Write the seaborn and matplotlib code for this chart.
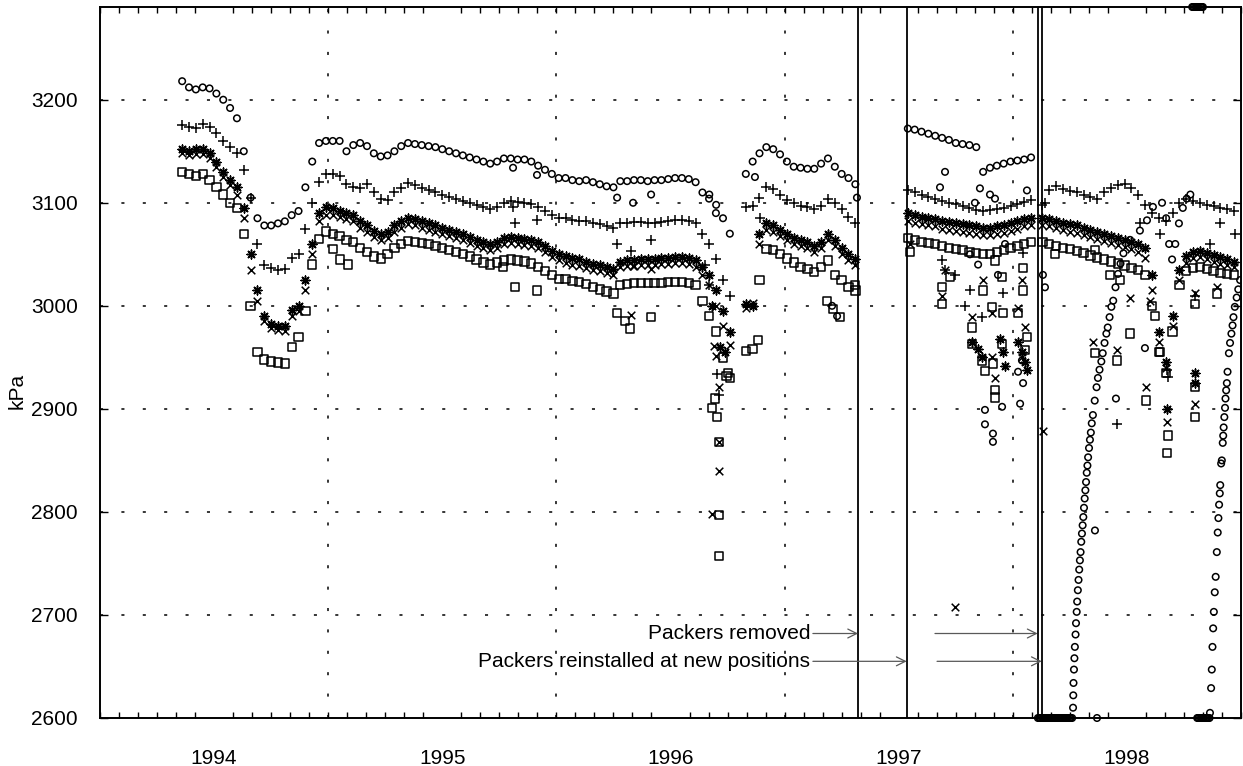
import numpy as np
import pandas as pd
import matplotlib
matplotlib.use("Agg")
import matplotlib.pyplot as plt
import seaborn as sns

sns.set_theme(style="ticks")
plt.rcParams['font.family'] = ['Liberation Sans', 'DejaVu Sans']
for k in ['text.color', 'axes.labelcolor', 'xtick.color', 'ytick.color', 'axes.edgecolor']:
    plt.rcParams[k] = 'black'

# ---------------- data (decimal years, kPa) ----------------
years = [1994, 1995, 1996, 1997, 1998]
y_ticks = [2600, 2700, 2800, 2900, 3000, 3100, 3200]

# sampling dates of the four recording periods
tA = np.round(1994.36 + 0.03 * np.arange(81), 3)
tB = np.round(1996.83 + 0.03 * np.arange(17), 3)
tC = np.round(1997.54 + 0.03 * np.arange(19), 3)
tD = np.round(1998.13 + 0.03 * np.arange(29), 3)

circ_A = [3218, 3212, 3210, 3212, 3211, 3206, 3200, 3192, 3182, 3150,
          3105, 3085, 3078, 3078, 3080, 3082, 3088, 3092, 3115, 3140,
          3158, 3160, 3160, 3160, 3150, 3156, 3158, 3155, 3148, 3145,
          3146, 3150, 3155, 3158, 3157, 3156, 3155, 3154, 3152, 3150,
          3148, 3146, 3144, 3142, 3140, 3138, 3140, 3143, 3143, 3142,
          3142, 3140, 3136, 3132, 3128, 3124, 3124, 3122, 3121, 3122,
          3120, 3118, 3116, 3115, 3121, 3121, 3122, 3122, 3121, 3122,
          3122, 3123, 3124, 3124, 3123, 3120, 3110, 3108, 3098, 3085,
          3070]
plus_A = [3175, 3174, 3173, 3176, 3174, 3168, 3160, 3154, 3148, 3132,
          3105, 3060, 3040, 3037, 3035, 3036, 3046, 3050, 3075, 3100,
          3120, 3128, 3128, 3126, 3118, 3115, 3114, 3118, 3110, 3104,
          3103, 3110, 3114, 3119, 3117, 3114, 3112, 3110, 3108, 3106,
          3104, 3102, 3100, 3098, 3096, 3094, 3096, 3100, 3102, 3101,
          3100, 3099, 3096, 3092, 3088, 3085, 3085, 3083, 3082, 3082,
          3080, 3079, 3077, 3076, 3080, 3080, 3081, 3081, 3080, 3080,
          3081, 3082, 3083, 3083, 3082, 3080, 3070, 3060, 3045, 3025,
          3010]
ast_A = [3152, 3150, 3152, 3152, 3148, 3140, 3130, 3122, 3115, 3095,
         3050, 3015, 2990, 2982, 2980, 2980, 2996, 3000, 3025, 3060,
         3090, 3096, 3095, 3092, 3090, 3088, 3082, 3078, 3073, 3070,
         3072, 3078, 3082, 3085, 3084, 3082, 3080, 3078, 3076, 3074,
         3072, 3070, 3067, 3064, 3062, 3060, 3062, 3066, 3067, 3066,
         3065, 3064, 3062, 3058, 3053, 3050, 3048, 3046, 3045, 3043,
         3041, 3040, 3038, 3036, 3043, 3044, 3044, 3045, 3045, 3045,
         3046, 3046, 3047, 3047, 3046, 3044, 3038, 3030, 3015, 2995,
         2975]
x_A = [3148, 3146, 3147, 3147, 3143, 3135, 3125, 3117, 3108, 3085,
       3035, 3005, 2985, 2978, 2977, 2976, 2990, 2995, 3015, 3050,
       3082, 3088, 3088, 3086, 3084, 3082, 3076, 3072, 3067, 3064,
       3066, 3072, 3076, 3079, 3078, 3076, 3074, 3072, 3070, 3068,
       3066, 3064, 3061, 3058, 3056, 3054, 3056, 3060, 3061, 3060,
       3059, 3058, 3056, 3052, 3047, 3044, 3042, 3040, 3039, 3037,
       3035, 3034, 3032, 3030, 3038, 3039, 3039, 3040, 3040, 3040,
       3041, 3041, 3042, 3042, 3041, 3038, 3030, 3020, 3000, 2980,
       2962]
sq_A = [3130, 3128, 3126, 3128, 3122, 3115, 3108, 3100, 3095, 3070,
        3000, 2955, 2948, 2946, 2945, 2944, 2960, 2970, 2995, 3040,
        3065, 3072, 3070, 3068, 3064, 3062, 3056, 3052, 3048, 3046,
        3050, 3056, 3060, 3063, 3062, 3061, 3060, 3058, 3056, 3054,
        3052, 3050, 3048, 3045, 3042, 3040, 3042, 3044, 3045, 3044,
        3043, 3041, 3038, 3034, 3030, 3026, 3026, 3024, 3023, 3021,
        3018, 3016, 3014, 3012, 3020, 3021, 3022, 3022, 3022, 3022,
        3022, 3023, 3023, 3023, 3022, 3020, 3005, 2990, 2975, 2950,
        2930]

circ_B = [3128, 3140, 3148, 3154, 3152, 3147, 3140, 3135, 3134, 3133, 3133, 3138, 3143, 3135, 3128, 3124, 3118]
plus_B = [3096, 3097, 3105, 3115, 3113, 3108, 3103, 3100, 3097, 3096, 3094, 3097, 3104, 3100, 3094, 3086, 3080]
ast_B = [3002, 3000, 3070, 3080, 3078, 3074, 3070, 3066, 3064, 3062, 3058, 3062, 3070, 3064, 3056, 3050, 3045]
x_B = [2998, 3003, 3060, 3074, 3072, 3068, 3064, 3060, 3058, 3056, 3052, 3056, 3064, 3058, 3050, 3044, 3040]
sq_B = [2956, 2958, 3025, 3055, 3054, 3050, 3046, 3042, 3038, 3036, 3033, 3038, 3044, 3030, 3025, 3018, 3015]

circ_C = [3172, 3171, 3169, 3167, 3165, 3163, 3161, 3158, 3157, 3156, 3154, 3130, 3134, 3136, 3138, 3140, 3141, 3142, 3144]
plus_C = [3112, 3110, 3108, 3106, 3104, 3102, 3100, 3099, 3097, 3095, 3093, 3092, 3093, 3094, 3095, 3097, 3099, 3101, 3103]
ast_C = [3090, 3088, 3086, 3085, 3084, 3082, 3081, 3080, 3079, 3078, 3077, 3076, 3076, 3077, 3078, 3080, 3082, 3084, 3085]
x_C = [3082, 3080, 3079, 3078, 3077, 3075, 3074, 3073, 3072, 3071, 3070, 3069, 3069, 3070, 3071, 3073, 3075, 3077, 3078]
sq_C = [3066, 3064, 3062, 3061, 3060, 3058, 3056, 3055, 3054, 3052, 3051, 3050, 3050, 3052, 3054, 3056, 3058, 3060, 3062]

plus_D = [3098, 3112, 3116, 3113, 3111, 3110, 3108, 3106, 3104, 3110, 3114, 3117, 3118, 3114, 3108,
          3098, 3090, 3085, 3082, 3090, 3100, 3104, 3102, 3100, 3098, 3097, 3095, 3094, 3092]
ast_D = [3085, 3084, 3082, 3080, 3079, 3078, 3076, 3074, 3072, 3070, 3068, 3066, 3064, 3062, 3060,
         3056, 3030, 2975, 2945, 2990, 3035, 3048, 3052, 3053, 3051, 3049, 3047, 3045, 3043]
x_D = [3078, 3077, 3076, 3074, 3072, 3071, 3069, 3067, 3065, 3063, 3061, 3059, 3057, 3055, 3052,
       3046, 3015, 2965, 2940, 2980, 3025, 3042, 3046, 3047, 3045, 3043, 3041, 3040, 3038]
sq_D = [3062, 3060, 3058, 3056, 3055, 3053, 3051, 3049, 3047, 3045, 3043, 3041, 3039, 3037, 3035,
        3030, 3000, 2955, 2935, 2975, 3020, 3034, 3037, 3038, 3036, 3034, 3032, 3031, 3030]

# circle gauge after the packer move (irregular dates)
circ_D_t = [1998.132, 1998.141,
            1998.264, 1998.265, 1998.266, 1998.268, 1998.270, 1998.272, 1998.275, 1998.277, 1998.280, 1998.282,
            1998.285, 1998.288, 1998.291, 1998.294, 1998.297, 1998.300, 1998.303, 1998.306, 1998.309, 1998.312,
            1998.315, 1998.318, 1998.321, 1998.324, 1998.327, 1998.330, 1998.334, 1998.338, 1998.342, 1998.346,
            1998.351, 1998.359, 1998.367, 1998.373, 1998.380, 1998.388, 1998.394, 1998.402, 1998.410, 1998.416,
            1998.424, 1998.432, 1998.440, 1998.450, 1998.461, 1998.472, 1998.485, 1998.514, 1998.557, 1998.588,
            1998.614, 1998.654,
            1998.672, 1998.685, 1998.698, 1998.712, 1998.728, 1998.745, 1998.762, 1998.778,
            1998.864, 1998.869, 1998.872, 1998.875, 1998.878, 1998.881, 1998.885, 1998.889, 1998.894, 1998.898,
            1998.901, 1998.904, 1998.907, 1998.909, 1998.913, 1998.916, 1998.920, 1998.922, 1998.924, 1998.927,
            1998.930, 1998.932, 1998.935, 1998.938, 1998.941, 1998.947, 1998.952, 1998.958, 1998.963, 1998.967,
            1998.973, 1998.981, 1998.988, 1998.996]
circ_D_v = [3030, 3018,
            2610, 2622, 2634, 2647, 2658, 2669, 2681, 2692, 2703, 2713,
            2724, 2734, 2744, 2753, 2761, 2771, 2779, 2787, 2795, 2804,
            2813, 2821, 2829, 2838, 2845, 2853, 2862, 2870, 2877, 2886,
            2894, 2908, 2921, 2930, 2938, 2946, 2954, 2964, 2973, 2979,
            2989, 2999, 3005, 3018, 3031, 3041, 3051, 3064, 3073, 3083,
            3096, 3100,
            3085, 3060, 3045, 3060, 3080, 3095, 3104, 3108,
            2605, 2629, 2647, 2669, 2687, 2703, 2722, 2737, 2761, 2780,
            2794, 2807, 2818, 2826, 2847, 2850, 2867, 2874, 2882, 2892,
            2901, 2910, 2918, 2925, 2936, 2954, 2964, 2973, 2981, 2989,
            2999, 3008, 3016, 3025]

# readings pinned at the plot limits (off scale)
circ_low_t = [1998.110, 1998.116, 1998.122, 1998.128, 1998.134, 1998.140, 1998.146, 1998.152, 1998.158,
              1998.164, 1998.170, 1998.176, 1998.182, 1998.188, 1998.194, 1998.200, 1998.206, 1998.212,
              1998.218, 1998.224, 1998.230, 1998.236, 1998.242, 1998.248, 1998.254, 1998.260, 1998.369,
              1998.808, 1998.814, 1998.820, 1998.826, 1998.832, 1998.838, 1998.844, 1998.850, 1998.856, 1998.862]
circ_low_v = [2600] * len(circ_low_t)
circ_high_t = [1998.786, 1998.792, 1998.798, 1998.804, 1998.810, 1998.816, 1998.822, 1998.828, 1998.833]
circ_high_v = [3290] * len(circ_high_t)

# isolated readings
circ_out_t = [1995.810, 1995.915, 1996.266, 1996.336, 1996.415, 1996.669, 1996.699, 1996.870, 1997.208,
              1997.230, 1997.317, 1997.703, 1997.681, 1997.834, 1997.856, 1997.900, 1997.922, 1998.062,
              1997.878, 1997.878, 1997.913, 1997.913, 1997.953, 1998.023, 1998.045, 1998.032, 1998.040,
              1997.812, 1997.848, 1997.935, 1997.966, 1998.360, 1998.452, 1998.579]
circ_out_v = [3134, 3127, 3105, 3100, 3108, 3104, 3090, 3125, 3000,
              2990, 3105, 3130, 3115, 3100, 3114, 3108, 3104, 3112,
              2899, 2885, 2876, 2868, 2902, 2936, 2925, 2905, 2947,
              3050, 3040, 3030, 3060, 2782, 2910, 2959]
plus_out_t = [1995.810, 1995.819, 1995.915, 1996.266, 1996.327, 1996.415, 1996.704, 1996.712, 1996.651,
              1996.669, 1996.892, 1997.690, 1997.703, 1997.812, 1997.865, 1997.957, 1998.045, 1997.747,
              1997.790, 1998.676, 1998.680, 1998.457, 1998.798, 1998.864, 1998.141, 1998.557, 1998.645,
              1998.908, 1998.974]
plus_out_v = [3096, 3080, 3083, 3060, 3053, 3064, 2934, 2913, 3040,
              3020, 3085, 3044, 3035, 3015, 2989, 3012, 3051, 3030,
              3000, 2938, 2931, 2885, 3010, 3060, 3100, 3080, 3070,
              3080, 3070]
ast_out_t = [1996.717, 1996.739, 1996.682, 1997.821, 1997.848, 1997.865, 1997.944, 1997.957, 1997.966,
             1998.023, 1998.040, 1998.053, 1998.062, 1998.798, 1998.798, 1998.676]
ast_out_v = [2960, 2955, 3000, 2965, 2958, 2950, 2968, 2955, 2942,
             2965, 2955, 2945, 2938, 2935, 2925, 2900]
x_out_t = [1996.336, 1996.415, 1996.327, 1996.712, 1996.712, 1996.712, 1996.682, 1996.691, 1996.699,
           1997.550, 1997.690, 1997.703, 1997.821, 1997.869, 1997.909, 1997.922, 1997.909, 1998.040,
           1998.023, 1998.053, 1998.040, 1997.747, 1998.132, 1998.351, 1998.457, 1998.514, 1998.584,
           1998.676, 1998.798, 1998.798, 1998.895, 1998.601]
x_out_v = [3039, 3036, 2991, 2921, 2868, 2840, 2798, 2961, 2951,
           3060, 3010, 3035, 2989, 3025, 2950, 2930, 2993, 3025,
           2998, 2979, 2950, 2708, 2879, 2965, 2957, 3008, 2921,
           2887, 3012, 2905, 3018, 3005]
sq_out_t = [1995.021, 1995.052, 1995.087, 1995.766, 1995.819, 1995.915, 1996.266, 1996.301, 1996.323,
            1996.415, 1996.682, 1996.695, 1996.704, 1996.712, 1996.712, 1996.712, 1996.752, 1996.745,
            1996.883, 1997.186, 1997.212, 1997.243, 1997.308,
            1997.550, 1997.690, 1997.690, 1997.725, 1997.821, 1997.821, 1997.865, 1997.878, 1997.913,
            1997.922, 1997.922, 1997.869, 1997.909, 1997.922, 1997.953, 1998.045, 1998.045, 1998.023,
            1998.062, 1998.053, 1997.957, 1997.953,
            1998.360, 1998.457, 1998.514, 1998.584, 1998.676, 1998.680, 1998.645, 1998.623, 1998.798,
            1998.798, 1998.798, 1998.895, 1998.360, 1998.426, 1998.470, 1998.185]
sq_out_v = [3055, 3045, 3040, 3038, 3018, 3015, 2993, 2985, 2978,
            2989, 2901, 2910, 2892, 2868, 2797, 2757, 2935, 2932,
            2967, 3005, 2997, 2989, 3020,
            3052, 3018, 3002, 3028, 2979, 2963, 2947, 2937, 2944,
            2918, 2911, 3015, 2999, 3044, 3028, 3037, 3015, 2993,
            2970, 2957, 2993, 2963,
            2954, 2947, 2973, 2908, 2857, 2874, 2955, 2990, 3002,
            2892, 2921, 3012, 3054, 3030, 3025, 3050]

# events
packer_removed = [1997.322, 1998.109]
packer_reinstalled = [1997.535, 1998.127]

# ---------------- figure ----------------
fig = plt.figure(figsize=(12.43, 7.66), dpi=100)
ax = fig.add_axes([100 / 1243, 48 / 766, 1141 / 1243, 711 / 766])
ax.set_facecolor('white')

grid_ls = (0, (2.0, 12.0))
for y in y_ticks[1:]:
    ax.axhline(y, color='black', lw=1.1, ls=grid_ls, zorder=0.5)
for yr in years[1:]:
    ax.axvline(yr, color='black', lw=1.1, ls=grid_ls, zorder=0.5)
for xv in packer_removed + packer_reinstalled:
    ax.axvline(xv, color='black', lw=1.3, zorder=1)


def draw(t, v, marker, size, hollow, clip=True):
    df = pd.DataFrame({'year': list(t), 'kPa': list(v)})
    sns.scatterplot(data=df, x='year', y='kPa', marker=marker, s=size, color='black',
                    linewidth=1.1, ax=ax, legend=False, clip_on=clip, zorder=3)
    coll = ax.collections[-1]
    if hollow:
        coll.set_facecolor('none')
        coll.set_edgecolor('black')


ast_marker = (8, 2, 0)
S_SQ, S_X, S_AST, S_PL, S_CI = 36, 30, 40, 44, 22
series = [
    (tA, sq_A, 's', S_SQ, True), (tB, sq_B, 's', S_SQ, True), (tC, sq_C, 's', S_SQ, True), (tD, sq_D, 's', S_SQ, True),
    (sq_out_t, sq_out_v, 's', S_SQ, True),
    (tA, x_A, 'x', S_X, False), (tB, x_B, 'x', S_X, False), (tC, x_C, 'x', S_X, False), (tD, x_D, 'x', S_X, False),
    (x_out_t, x_out_v, 'x', S_X, False),
    (tA, ast_A, ast_marker, S_AST, False), (tB, ast_B, ast_marker, S_AST, False), (tC, ast_C, ast_marker, S_AST, False),
    (tD, ast_D, ast_marker, S_AST, False), (ast_out_t, ast_out_v, ast_marker, S_AST, False),
    (tA, plus_A, '+', S_PL, False), (tB, plus_B, '+', S_PL, False), (tC, plus_C, '+', S_PL, False),
    (tD, plus_D, '+', S_PL, False), (plus_out_t, plus_out_v, '+', S_PL, False),
    (tA, circ_A, 'o', S_CI, True), (tB, circ_B, 'o', S_CI, True), (tC, circ_C, 'o', S_CI, True),
    (circ_D_t, circ_D_v, 'o', S_CI, True), (circ_out_t, circ_out_v, 'o', S_CI, True),
]
for t, v, m, s, h in series:
    draw(t, v, m, s, h)
draw(circ_low_t, circ_low_v, 'o', S_CI, True, clip=False)
draw(circ_high_t, circ_high_v, 'o', S_CI, True, clip=False)

ax.set_xlim(1994, 1999)
ax.set_ylim(2600, 3290)

# annotations
arrow_kw = dict(arrowstyle='->', color='0.35', lw=0.9, mutation_scale=16, shrinkA=0, shrinkB=0)
y_rem, y_ins = 2682, 2655
ax.text(1997.112, y_rem, 'Packers removed', ha='right', va='center', fontsize=15, color='black')
ax.text(1997.112, y_ins, 'Packers reinstalled at new positions', ha='right', va='center', fontsize=15,
        color='black')
ax.annotate('', xy=(packer_removed[0], y_rem), xytext=(1997.124, y_rem), arrowprops=arrow_kw)
ax.annotate('', xy=(packer_removed[1], y_rem), xytext=(1997.659, y_rem), arrowprops=arrow_kw)
ax.annotate('', xy=(packer_reinstalled[0], y_ins), xytext=(1997.124, y_ins), arrowprops=arrow_kw)
ax.annotate('', xy=(packer_reinstalled[1], y_ins), xytext=(1997.668, y_ins), arrowprops=arrow_kw)

# axes, ticks
ax.set_yticks(y_ticks)
ax.set_yticklabels([str(v) for v in y_ticks])
ax.tick_params(axis='y', direction='in', length=6, width=1, left=True, right=True,
               labelsize=15, pad=16, colors='black')
ax.set_xticks([y + 0.5 for y in years])
ax.set_xticklabels([str(y) for y in years])
ax.tick_params(axis='x', which='major', length=0, pad=22, labelsize=15, colors='black')
ax.set_xticks(np.arange(1994, 1999.001, 1 / 12), minor=True)
ax.tick_params(axis='x', which='minor', direction='in', length=4, width=1, top=True, bottom=True,
               colors='black')
ax.set_xlabel('')
ax.set_ylabel('kPa', fontsize=15, color='black')
ax.yaxis.set_label_coords(-0.064, 0.46)
for sp in ax.spines.values():
    sp.set_visible(True)
    sp.set_color('black')
    sp.set_linewidth(1.4)

fig.savefig('out.png', dpi=100, facecolor='white')
